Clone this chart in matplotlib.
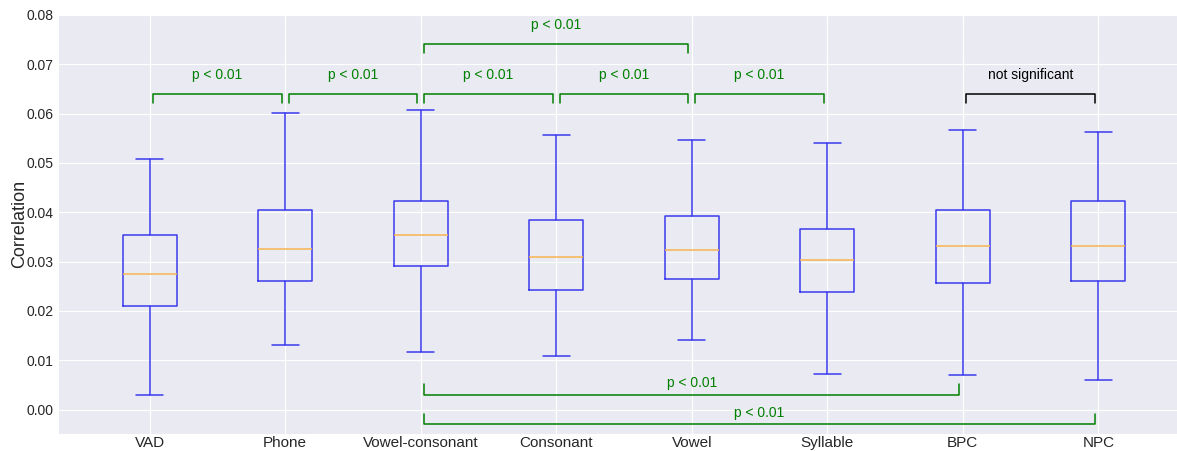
import matplotlib
matplotlib.use("Agg")
import matplotlib.pyplot as plt

plt.style.use("seaborn-v0_8-darkgrid")
plt.rcParams["font.family"] = ["Liberation Sans", "DejaVu Sans"]

categories = ["VAD", "Phone", "Vowel-consonant", "Consonant", "Vowel",
              "Syllable", "BPC", "NPC"]
whisker_low = [0.0030, 0.0132, 0.0117, 0.0109, 0.0142, 0.0073, 0.0071, 0.0061]
q1 = [0.0211, 0.0261, 0.0292, 0.0243, 0.0265, 0.0239, 0.0257, 0.0261]
median = [0.0275, 0.0326, 0.0354, 0.0310, 0.0324, 0.0304, 0.0332, 0.0332]
q3 = [0.0354, 0.0405, 0.0423, 0.0385, 0.0393, 0.0367, 0.0405, 0.0423]
whisker_high = [0.0508, 0.0601, 0.0608, 0.0557, 0.0547, 0.0541, 0.0567, 0.0563]

# significance brackets: (left index, right index, bar height, label, colour)
brackets_above = [
    (0, 1, 0.0640, "p < 0.01", "green"),
    (1, 2, 0.0640, "p < 0.01", "green"),
    (2, 3, 0.0640, "p < 0.01", "green"),
    (3, 4, 0.0640, "p < 0.01", "green"),
    (4, 5, 0.0640, "p < 0.01", "green"),
    (2, 4, 0.0741, "p < 0.01", "green"),
    (6, 7, 0.0640, "not significant", "black"),
]
brackets_below = [
    (2, 6, 0.0030, "p < 0.01", "green"),
    (2, 7, -0.0030, "p < 0.01", "green"),
]

fig = plt.figure(figsize=(11.77, 4.51), dpi=100)
ax = fig.add_axes([0.050, 0.038, 0.950, 0.929])

stats = []
for i, name in enumerate(categories):
    stats.append({
        "label": name, "whislo": whisker_low[i], "q1": q1[i], "med": median[i],
        "q3": q3[i], "whishi": whisker_high[i], "fliers": [],
    })

positions = list(range(1, len(categories) + 1))
blue = "#3a3af0"
ax.bxp(stats, positions=positions, widths=0.4, showfliers=False,
       boxprops=dict(color=blue, linewidth=1.1),
       whiskerprops=dict(color=blue, linewidth=1.1),
       capprops=dict(color=blue, linewidth=1.1),
       medianprops=dict(color="#f8b450", linewidth=1.1))

off = 0.025
leg = 0.0019
for a, b, h, text, col in brackets_above:
    x1, x2 = positions[a] + off, positions[b] - off
    ax.plot([x1, x1, x2, x2], [h - leg, h, h, h - leg], color=col, lw=1.1)
    ax.text((positions[a] + positions[b]) / 2, h + 0.0039, text, ha="center",
            va="center", color=col, fontsize=10)
for a, b, h, text, col in brackets_below:
    x1, x2 = positions[a] + off, positions[b] - off
    ax.plot([x1, x1, x2, x2], [h + 2.1 * leg / 1.8, h, h, h + 2.1 * leg / 1.8],
            color=col, lw=1.1)
    ax.text((positions[a] + positions[b]) / 2, h + 0.0024, text, ha="center",
            va="center", color=col, fontsize=10)

ax.set_xlim(0.33, 8.58)
ax.set_ylim(-0.0049, 0.08)
ax.set_yticks([0.00, 0.01, 0.02, 0.03, 0.04, 0.05, 0.06, 0.07, 0.08])
ax.set_yticklabels([f"{v:.2f}" for v in ax.get_yticks()], fontsize=10)
ax.set_xticks(positions)
ax.set_xticklabels(categories, fontsize=11)
ax.tick_params(axis="x", length=0, pad=1.5)
ax.tick_params(axis="y", length=0, pad=4)
ax.set_ylabel("Correlation", fontsize=13, va="center")
ax.yaxis.set_label_coords(-0.035, 0.5)

fig.savefig("out.png", dpi=100)
